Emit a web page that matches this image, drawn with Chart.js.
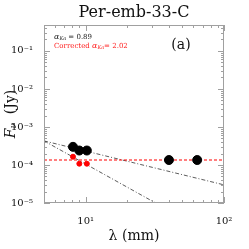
<!DOCTYPE html>
<html>
<head>
<meta charset="utf-8">
<script src="https://cdn.jsdelivr.net/npm/chart.js@4.4.1/dist/chart.umd.min.js"></script>
<style>
  html, body { margin: 0; padding: 0; background: #fff; }
  #wrap { width: 249px; height: 249px; }
</style>
</head>
<body>
<div id="wrap"><canvas id="c" width="249" height="249"></canvas></div>
<script>
// measured fluxes (black) and corrected fluxes (red)
var lamObs = [8.1, 9.0, 10.2, 40, 64];
var fluxObs = [3.0e-4, 2.4e-4, 2.4e-4, 1.35e-4, 1.35e-4];
var lamCorr = [8.1, 9.0, 10.2];
var fluxCorr = [1.65e-4, 1.08e-4, 1.08e-4];

// fit lines, endpoints
var fitLam = [5, 100];
var fitShallow = [4.3e-4, 3.0e-5];
var fitSteep = [4.3e-4, 1.0e-6];
var freeFreeLevel = [1.35e-4, 1.35e-4];

var xTicks = [10, 100];
var yTicks = [1e-5, 1e-4, 1e-3, 1e-2, 1e-1];
var supers = { "-": "\u207b", "0": "\u2070", "1": "\u00b9", "2": "\u00b2", "3": "\u00b3", "4": "\u2074", "5": "\u2075" };

function pow10Label(v) {
  var e = String(Math.round(Math.log10(v)));
  return "10" + e.split("").map(function (ch) { return supers[ch]; }).join("");
}

function pairs(xs, ys) {
  return xs.map(function (x, i) { return { x: x, y: ys[i] }; });
}

var SERIF = "'DejaVu Serif', 'Liberation Serif', serif";

// draws a list of [text, font, dy] pieces one after another
function drawRuns(ctx, runs, x, y) {
  runs.forEach(function (r) {
    ctx.font = r[1];
    ctx.fillText(r[0], x, y + (r[2] || 0));
    x += ctx.measureText(r[0]).width;
  });
}

function runsWidth(ctx, runs) {
  var w = 0;
  runs.forEach(function (r) {
    ctx.font = r[1];
    w += ctx.measureText(r[0]).width;
  });
  return w;
}

var framePlugin = {
  id: "frame",
  afterDraw: function (chart) {
    var ctx = chart.ctx;
    var a = chart.chartArea;
    var xs = chart.scales.x;
    var ys = chart.scales.y;
    ctx.save();
    ctx.strokeStyle = "#a0a0a0";
    ctx.lineWidth = 1;
    ctx.strokeRect(a.left + 0.5, a.top + 0.5, a.right - a.left - 1, a.bottom - a.top - 1);

    // inward ticks on all four sides
    ctx.beginPath();
    for (var d = 0; d < 3; d++) {
      for (var m = 1; m < 10; m++) {
        var v = Math.pow(10, d) * m;
        if (v < xs.min || v > xs.max) continue;
        var px = Math.round(xs.getPixelForValue(v)) + 0.5;
        var len = m === 1 ? 6 : 3;
        ctx.moveTo(px, a.bottom); ctx.lineTo(px, a.bottom - len);
        ctx.moveTo(px, a.top); ctx.lineTo(px, a.top + len);
      }
    }
    for (var e = -6; e < 1; e++) {
      for (var k = 1; k < 10; k++) {
        var w = Math.pow(10, e) * k;
        if (w < ys.min || w > ys.max) continue;
        var py = Math.round(ys.getPixelForValue(w)) + 0.5;
        var l2 = k === 1 ? 6 : 3;
        ctx.moveTo(a.left, py); ctx.lineTo(a.left + l2, py);
        ctx.moveTo(a.right, py); ctx.lineTo(a.right - l2, py);
      }
    }
    ctx.stroke();

    // title and annotations
    ctx.fillStyle = "#111";
    ctx.textAlign = "center";
    ctx.textBaseline = "middle";
    ctx.font = "16px " + SERIF;
    ctx.fillText("Per-emb-33-C", (a.left + a.right) / 2, 13);
    ctx.font = "14px " + SERIF;
    ctx.fillText("(a)", 181, 45);
    ctx.fillText("\u03bb (mm)", (a.left + a.right) / 2, 236);

    ctx.textAlign = "left";
    var yl = [
      ["F", "italic 14px " + SERIF, 0],
      ["\u03bd", "italic 9px " + SERIF, 3],
      ["  (Jy)", "14px " + SERIF, 0]
    ];
    ctx.save();
    ctx.translate(11, (a.top + a.bottom) / 2);
    ctx.rotate(-Math.PI / 2);
    drawRuns(ctx, yl, -runsWidth(ctx, yl) / 2, 0);
    ctx.restore();

    ctx.fillStyle = "#222";
    drawRuns(ctx, [
      ["\u03b1", "italic 8px " + SERIF, 0],
      ["Ka", "italic 5px " + SERIF, 2],
      [" = 0.89", "7px " + SERIF, 0]
    ], 54, 37);
    ctx.fillStyle = "#ff2020";
    drawRuns(ctx, [
      ["Corrected ", "7px " + SERIF, 0],
      ["\u03b1", "italic 8px " + SERIF, 0],
      ["Ka", "italic 5px " + SERIF, 2],
      ["= 2.02", "7px " + SERIF, 0]
    ], 54, 46);
    ctx.restore();
  }
};

new Chart(document.getElementById("c"), {
  type: "scatter",
  data: {
    datasets: [
      {
        type: "line",
        data: pairs(fitLam, fitShallow),
        borderColor: "#333",
        borderWidth: 0.8,
        borderDash: [4, 2, 1, 2],
        pointRadius: 0,
        order: 3
      },
      {
        type: "line",
        data: pairs(fitLam, fitSteep),
        borderColor: "#333",
        borderWidth: 0.8,
        borderDash: [4, 2, 1, 2],
        pointRadius: 0,
        order: 3
      },
      {
        type: "line",
        data: pairs(fitLam, freeFreeLevel),
        borderColor: "#ff0000",
        borderWidth: 1.2,
        borderDash: [3, 2],
        pointRadius: 0,
        order: 2
      },
      {
        data: pairs(lamObs, fluxObs),
        backgroundColor: "#000",
        borderColor: "#000",
        pointRadius: 4.5,
        order: 1
      },
      {
        data: pairs(lamCorr, fluxCorr),
        backgroundColor: "#ff0000",
        borderColor: "#ff0000",
        pointRadius: 2.5,
        order: 0
      }
    ]
  },
  options: {
    responsive: false,
    animation: false,
    layout: { padding: { left: 0, right: 25, top: 25, bottom: 0 } },
    plugins: { legend: { display: false }, tooltip: { enabled: false } },
    scales: {
      x: {
        type: "logarithmic",
        min: 5,
        max: 100,
        grid: { display: false },
        border: { display: false },
        afterFit: function (s) { s.height = 46; },
        afterBuildTicks: function (s) {
          s.ticks = xTicks.map(function (v) { return { value: v }; });
        },
        ticks: {
          padding: 4,
          color: "#111",
          maxRotation: 0,
          font: { family: SERIF, size: 10 },
          callback: function (v) { return pow10Label(v); }
        }
      },
      y: {
        type: "logarithmic",
        min: 1e-5,
        max: 0.48,
        grid: { display: false },
        border: { display: false },
        afterFit: function (s) { s.width = 44; },
        afterBuildTicks: function (s) {
          s.ticks = yTicks.map(function (v) { return { value: v }; });
        },
        ticks: {
          padding: 3,
          color: "#111",
          font: { family: SERIF, size: 10 },
          callback: function (v) { return pow10Label(v); }
        }
      }
    }
  },
  plugins: [framePlugin]
});
</script>
</body>
</html>
